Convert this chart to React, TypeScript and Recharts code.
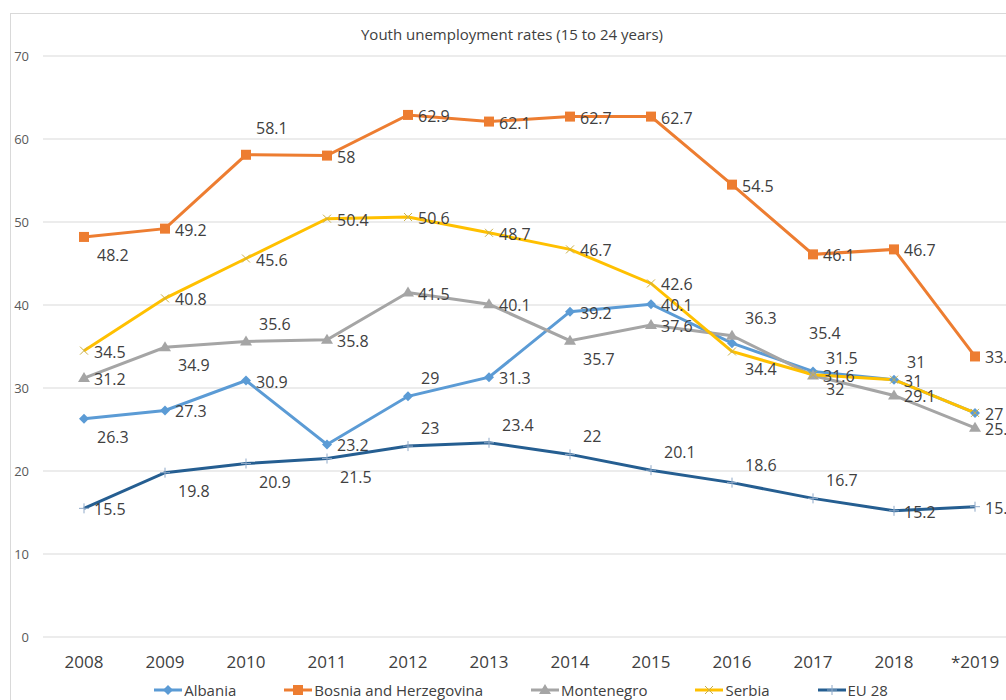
import React from 'react'
import { LineChart, Line, XAxis, YAxis, CartesianGrid, Legend, LabelList } from 'recharts'

const years = ['2008', '2009', '2010', '2011', '2012', '2013', '2014', '2015', '2016', '2017', '2018', '*2019']

const albania = [26.3, 27.3, 30.9, 23.2, 29, 31.3, 39.2, 40.1, 35.4, 32, 31, 27]
const bosnia = [48.2, 49.2, 58.1, 58, 62.9, 62.1, 62.7, 62.7, 54.5, 46.1, 46.7, 33.8]
const montenegro = [31.2, 34.9, 35.6, 35.8, 41.5, 40.1, 35.7, 37.6, 36.3, 31.5, 29.1, 25.2]
const serbia = [34.5, 40.8, 45.6, 50.4, 50.6, 48.7, 46.7, 42.6, 34.4, 31.6, 31, 27]
const eu28 = [15.5, 19.8, 20.9, 21.5, 23, 23.4, 22, 20.1, 18.6, 16.7, 15.2, 15.7]

const yTicks = [0, 10, 20, 30, 40, 50, 60, 70]

// where each data label sits relative to its point
const albaniaPos = ['br', 'r', 'r', 'r', 'ar', 'r', 'r', 'r', 'far', 'br', 'ar', 'none']
const bosniaPos = ['br', 'r', 'top', 'r', 'r', 'r', 'r', 'r', 'r', 'r', 'r', 'r']
const montenegroPos = ['r', 'br', 'ar', 'r', 'r', 'r', 'br', 'r', 'ar', 'ar', 'r', 'r']
const serbiaPos = ['r', 'r', 'r', 'r', 'r', 'r', 'r', 'r', 'br', 'r', 'r', 'r']
const euPos = ['r', 'br', 'br', 'br', 'ar', 'ar', 'ar', 'ar', 'ar', 'ar', 'r', 'r']

const data = years.map((year, i) => ({
  year,
  Albania: albania[i],
  'Bosnia and Herzegovina': bosnia[i],
  Montenegro: montenegro[i],
  Serbia: serbia[i],
  'EU 28': eu28[i],
}))

const FONT = "'Open Sans', 'Liberation Sans', sans-serif"

const offsets: Record<string, [number, number]> = {
  r: [10, 1],
  br: [13, 18],
  ar: [13, -18],
  top: [10, -27],
  far: [77, -10],
}

const makeLabel = (pos: string[]) => (props: any) => {
  const { x, y, value, index } = props
  const p = pos[index]
  if (!p || p === 'none') return null
  const [dx, dy] = offsets[p]
  return (
    <text x={x + dx} y={y + dy} fill="#404040" fontSize={16} fontFamily={FONT} dominantBaseline="central" textAnchor="start">
      {value}
    </text>
  )
}

const Diamond = (props: any) => {
  const { cx, cy, stroke } = props
  return <path d={`M${cx},${cy - 5}L${cx + 5},${cy}L${cx},${cy + 5}L${cx - 5},${cy}Z`} fill={stroke} />
}
const Square = (props: any) => {
  const { cx, cy, stroke } = props
  return <rect x={cx - 5} y={cy - 5} width={10} height={10} fill={stroke} />
}
const Triangle = (props: any) => {
  const { cx, cy, stroke } = props
  return <path d={`M${cx},${cy - 6}L${cx + 6},${cy + 4}L${cx - 6},${cy + 4}Z`} fill={stroke} />
}
const Cross = (props: any) => {
  const { cx, cy } = props
  return <path d={`M${cx - 4},${cy - 4}L${cx + 4},${cy + 4}M${cx + 4},${cy - 4}L${cx - 4},${cy + 4}`} stroke="#C9B04A" strokeWidth={1} />
}
const Plus = (props: any) => {
  const { cx, cy } = props
  return <path d={`M${cx - 5},${cy}L${cx + 5},${cy}M${cx},${cy - 5}L${cx},${cy + 5}`} stroke="#8FA9C8" strokeWidth={1} />
}

const series = [
  { key: 'Albania', color: '#5B9BD5', dot: Diamond, pos: albaniaPos },
  { key: 'Bosnia and Herzegovina', color: '#ED7D31', dot: Square, pos: bosniaPos },
  { key: 'Montenegro', color: '#A5A5A5', dot: Triangle, pos: montenegroPos },
  { key: 'Serbia', color: '#FFC000', dot: Cross, pos: serbiaPos },
  { key: 'EU 28', color: '#255E91', dot: Plus, pos: euPos },
]

const LegendContent = () => (
  <div style={{ display: 'flex', justifyContent: 'center', gap: 48, fontFamily: FONT, fontSize: 15, color: '#404040', paddingLeft: 36, paddingTop: 5 }}>
    {series.map((s) => {
      const Dot = s.dot
      return (
        <div key={s.key} style={{ display: 'flex', alignItems: 'center' }}>
          <svg width={28} height={14} style={{ marginRight: 2 }}>
            <line x1={0} y1={7} x2={28} y2={7} stroke={s.color} strokeWidth={3} />
            <Dot cx={14} cy={7} stroke={s.color} />
          </svg>
          <span>{s.key}</span>
        </div>
      )
    })}
  </div>
)

export default function App() {
  return (
    <div style={{ position: 'absolute', left: 0, top: 0, width: 1006, height: 700, overflow: 'hidden', background: '#fff' }}>
      <div style={{ position: 'absolute', left: 10, top: 13, width: 1010, height: 720, border: '1px solid #d9d9d9' }} />
      <div style={{ position: 'absolute', left: 0, width: 1024, top: 24, textAlign: 'center', fontFamily: FONT, fontSize: 15, color: '#404040' }}>
        Youth unemployment rates (15 to 24 years)
      </div>
      <LineChart width={1006} height={700} data={data} margin={{ top: 56, right: 0, left: 0, bottom: 0 }}>
        <CartesianGrid vertical={false} stroke="#d9d9d9" />
        <XAxis
          dataKey="year"
          axisLine={false}
          tickLine={false}
          tickSize={0}
          tickMargin={19}
          height={38}
          padding={{ left: 41, right: 31 }}
          tick={{ fill: '#404040', fontSize: 17, fontFamily: FONT }}
          interval={0}
        />
        <YAxis
          domain={[0, 70]}
          ticks={yTicks}
          axisLine={false}
          tickLine={false}
          tickSize={0}
          tickMargin={14}
          width={43}
          tick={{ fill: '#595959', fontSize: 13, fontFamily: FONT }}
        />
        <Legend verticalAlign="bottom" height={25} content={<LegendContent />} />
        {series.map((s) => {
          const Dot = s.dot
          return (
            <Line
              key={s.key}
              type="linear"
              dataKey={s.key}
              stroke={s.color}
              strokeWidth={3}
              dot={(p: any) => <Dot key={p.index} cx={p.cx} cy={p.cy} stroke={s.color} />}
              activeDot={false}
              isAnimationActive={false}
            >
              <LabelList dataKey={s.key} content={makeLabel(s.pos)} />
            </Line>
          )
        })}
      </LineChart>
    </div>
  )
}
